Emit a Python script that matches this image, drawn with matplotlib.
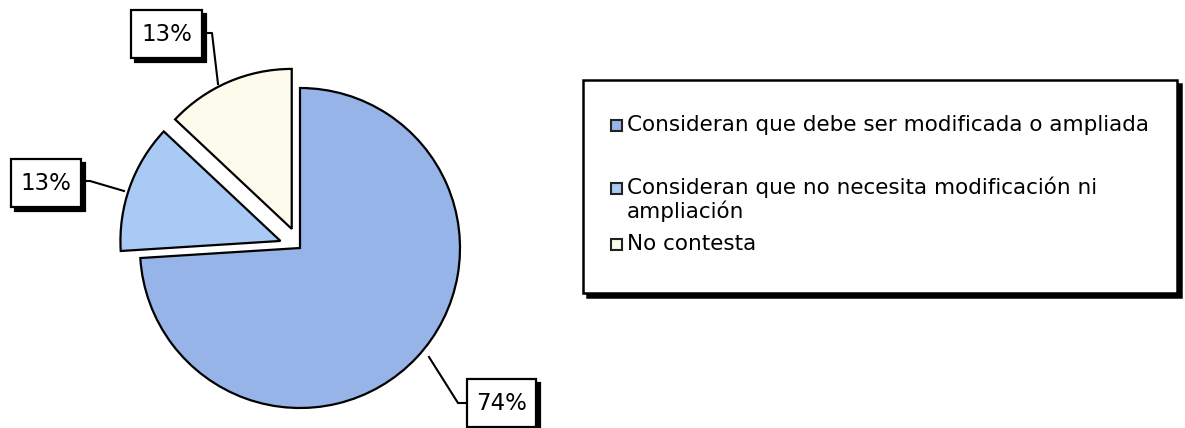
import matplotlib.pyplot as plt
from matplotlib.patches import Rectangle

# Survey answers (percent)
categories = ['Consideran que debe ser modificada o ampliada',
              'Consideran que no necesita modificación ni\nampliación',
              'No contesta']
values = [74, 13, 13]
colors = ['#96B4E7', '#A8CAF4', '#FDFBEC']
explode = [0, 0.13, 0.13]

W, H = 1185, 428
fig = plt.figure(figsize=(W / 100, H / 100), dpi=100)

# overlay axes in pixel units for boxes, leaders and legend
ax = fig.add_axes([0, 0, 1, 1])
ax.set_xlim(0, W)
ax.set_ylim(0, H)
ax.axis('off')


def Y(y):
    # screen-style y (from top) to axes y
    return H - y


# pie axes: centre (300, 248), radius 160 px
cx, cy, r = 300, 248, 160
pax = fig.add_axes([(cx - r) / W, (H - cy - r) / H, 2 * r / W, 2 * r / H])
pax.pie(values, colors=colors, explode=explode, startangle=90,
        counterclock=False, radius=1,
        wedgeprops=dict(edgecolor='black', linewidth=1.6, clip_on=False))
pax.set_xlim(-1, 1)
pax.set_ylim(-1, 1)
pax.axis('off')
ax.set_zorder(2)


def shadow_box(x0, y0, x1, y1, off=4, lw=1.6):
    # white box with a black drop shadow to the lower right
    ax.add_patch(Rectangle((x0 + off, Y(y1) - off), x1 - x0, y1 - y0,
                           facecolor='black', edgecolor='black', lw=lw, zorder=3))
    ax.add_patch(Rectangle((x0, Y(y1)), x1 - x0, y1 - y0,
                           facecolor='white', edgecolor='black', lw=lw, zorder=4))


# data labels with leader lines
labels = [f'{v}%' for v in values]
label_boxes = [(467, 379, 536, 427), (11, 159, 81, 207), (131, 10, 202, 58)]
leaders = [[(429, 357), (458, 403), (467, 403)],
           [(81, 181), (90, 181), (124, 191)],
           [(202, 33), (212, 33), (218, 84)]]
for text, (x0, y0, x1, y1), pts in zip(labels, label_boxes, leaders):
    xs = [p[0] for p in pts]
    ys = [Y(p[1]) for p in pts]
    ax.plot(xs, ys, color='black', lw=1.5, zorder=2)
    shadow_box(x0, y0, x1, y1)
    ax.text((x0 + x1) / 2, Y((y0 + y1) / 2), text, ha='center', va='center',
            fontsize=16.5, zorder=5)

# legend
shadow_box(583, 80, 1177, 293, off=4, lw=1.8)
legend_y = [125, 188, 244]
for label, col, ly in zip(categories, colors, legend_y):
    ax.add_patch(Rectangle((611, Y(ly) - 5.5), 11, 11, facecolor=col,
                           edgecolor='#222222', lw=1.5, zorder=6))
    if '\n' in label:
        ax.text(627, Y(ly) + 12, label, ha='left', va='top', fontsize=15.5,
                linespacing=1.15, zorder=6)
    else:
        ax.text(627, Y(ly), label, ha='left', va='center', fontsize=15.5, zorder=6)

fig.savefig('out.png', dpi=100)
